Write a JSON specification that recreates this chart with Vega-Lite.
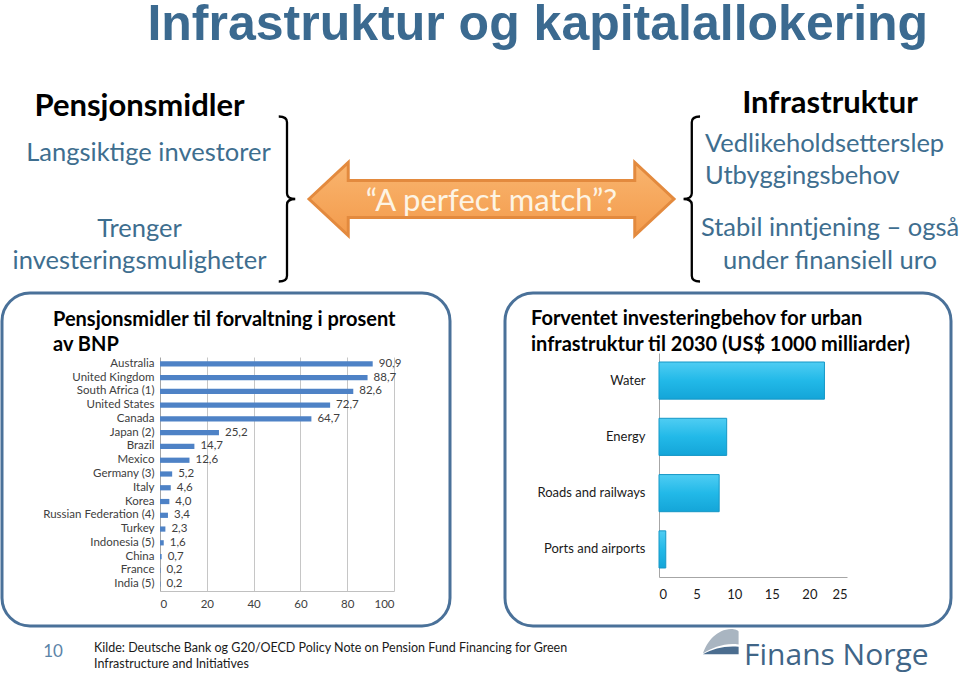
{
  "$schema": "https://vega.github.io/schema/vega-lite/v6.json",
  "padding": 0,
  "background": "#ffffff",
  "title": {"text": "Infrastruktur og kapitalallokering", "font": "Liberation Sans", "fontWeight": "bold", "fontSize": 50, "color": "#3b6a90", "anchor": "middle", "frame": "bounds", "dx": 58, "offset": -2, "baseline": "alphabetic"},
  "config": {
    "view": {"stroke": null},
    "font": "Lato",
    "locale": {"number": {"decimal": ",", "thousands": " ", "grouping": [3], "currency": ["", ""]}}
  },
  "bounds": "full",
  "spacing": 0,
  "vconcat": [
    {
      "bounds": "flush",
      "spacing": 0,
      "hconcat": [
        {
          "width": 275, "height": 184,
          "title": {"text": "Pensjonsmidler", "font": "Lato", "fontWeight": "bold", "fontSize": 31, "color": "#000000", "anchor": "middle", "baseline": "middle", "offset": -31, "frame": "group"},
          "data": {"values": [
            {"gruppe": "investorer", "tekst": "Langsiktige investorer"},
            {"gruppe": "muligheter", "tekst": "Trenger\ninvesteringsmuligheter"}
          ]},
          "encoding": {
            "y": {"field": "gruppe", "type": "nominal", "sort": null, "scale": {"type": "band", "domain": ["investorer", "muligheter"], "paddingInner": 0, "paddingOuter": 0.2105, "align": 0.25}, "axis": null},
            "text": {"field": "tekst", "type": "nominal"}
          },
          "layer": [
            {
              "transform": [{"filter": "datum.gruppe === 'investorer'"}],
              "mark": {"type": "text", "font": "Lato", "fontSize": 25.5, "color": "#3e6e8f", "baseline": "middle", "align": "center", "dx": 9}
            },
            {
              "transform": [{"filter": "datum.gruppe === 'muligheter'"}],
              "mark": {"type": "text", "font": "Lato", "fontSize": 25.5, "color": "#3e6e8f", "lineBreak": "\n", "lineHeight": 32, "baseline": "middle", "align": "center"}
            }
          ]
        },
        {
          "width": 20, "height": 184,
          "data": {"values": [{"figur": "klamme"}]},
          "mark": {"type": "point", "shape": "M-0.1,-1 Q0,-1 0,-0.93 L0,-0.07 Q0,0 0.1,0 Q0,0 0,0.07 L0,0.93 Q0,1 -0.1,1", "size": 27225, "filled": false, "color": "#000000", "strokeWidth": 2.3, "opacity": 1},
          "encoding": {}
        },
        {
          "width": 389, "height": 184,
          "data": {"values": [{"tekst": "\u201cA perfect match\u201d?"}]},
          "layer": [
            {
              "mark": {"type": "point", "shape": "M-1,0 L-0.785,-0.2 L-0.785,-0.101 L0.785,-0.101 L0.785,-0.2 L1,0 L0.785,0.2 L0.785,0.101 L-0.785,0.101 L-0.785,0.2 Z", "size": 133225, "filled": true, "fill": {"gradient": "linear", "x1": 0, "y1": 0, "x2": 0, "y2": 1, "stops": [{"offset": 0, "color": "#f9b56f"}, {"offset": 1, "color": "#f39b4c"}]}, "stroke": "#e38a3e", "strokeWidth": 3, "opacity": 1},
              "encoding": {}
            },
            {
              "mark": {"type": "text", "font": "Lato", "fontSize": 31, "color": "#fdf4e4", "baseline": "middle", "align": "center", "dy": 3},
              "encoding": {"text": {"field": "tekst", "type": "nominal"}}
            }
          ]
        },
        {
          "width": 19, "height": 184,
          "data": {"values": [{"figur": "klamme"}]},
          "mark": {"type": "point", "shape": "M0.055,-1 Q-0.045,-1 -0.045,-0.93 L-0.045,-0.07 Q-0.045,0 -0.145,0 Q-0.045,0 -0.045,0.07 L-0.045,0.93 Q-0.045,1 0.055,1", "size": 27225, "filled": false, "color": "#000000", "strokeWidth": 2.3, "opacity": 1},
          "encoding": {}
        },
        {
          "width": 250, "height": 184,
          "title": {"text": "Infrastruktur", "font": "Lato", "fontWeight": "bold", "fontSize": 31, "color": "#000000", "anchor": "middle", "baseline": "middle", "offset": -28, "frame": "group"},
          "layer": [
            {
              "data": {"values": [{"gruppe": "behov", "kolonne": "venstre", "tekst": "Vedlikeholdsetterslep\nUtbyggingsbehov"}]},
              "mark": {"type": "text", "font": "Lato", "fontSize": 25.5, "color": "#3e6e8f", "lineBreak": "\n", "lineHeight": 32, "baseline": "alphabetic", "align": "left"},
              "encoding": {
                "x": {"field": "kolonne", "type": "nominal", "scale": {"type": "band", "paddingInner": 0, "paddingOuter": 0}, "bandPosition": 0, "axis": null},
                "y": {"field": "gruppe", "type": "nominal", "scale": {"type": "band", "domain": ["behov", "inntjening"], "paddingInner": 0, "paddingOuter": 0.0952, "align": 0.1875}, "axis": null},
                "text": {"field": "tekst", "type": "nominal"}
              }
            },
            {
              "data": {"values": [{"gruppe": "inntjening", "tekst": "Stabil inntjening \u2013 ogs\u00e5\nunder finansiell uro"}]},
              "mark": {"type": "text", "font": "Lato", "fontSize": 25.5, "color": "#3e6e8f", "lineBreak": "\n", "lineHeight": 33, "baseline": "alphabetic", "align": "center"},
              "encoding": {
                "y": {"field": "gruppe", "type": "nominal"},
                "text": {"field": "tekst", "type": "nominal"}
              }
            }
          ]
        }
      ]
    },
    {
      "bounds": "flush",
      "spacing": 55,
      "hconcat": [
        {
          "width": 448, "height": 333,
          "view": {"stroke": "#4a7199", "strokeWidth": 3, "cornerRadius": 28, "fill": "#ffffff"},
          "title": {"text": ["Pensjonsmidler til forvaltning i prosent", "av BNP"], "anchor": "start", "frame": "group", "dx": 51, "offset": -62, "baseline": "top", "font": "Lato", "fontWeight": "bold", "fontSize": 20, "lineHeight": 25, "color": "#000000"},
          "data": {"values": [
            {"land": "Australia", "andel": 90.9},
            {"land": "United Kingdom", "andel": 88.7},
            {"land": "South Africa (1)", "andel": 82.6},
            {"land": "United States", "andel": 72.7},
            {"land": "Canada", "andel": 64.7},
            {"land": "Japan (2)", "andel": 25.2},
            {"land": "Brazil", "andel": 14.7},
            {"land": "Mexico", "andel": 12.6},
            {"land": "Germany (3)", "andel": 5.2},
            {"land": "Italy", "andel": 4.6},
            {"land": "Korea", "andel": 4.0},
            {"land": "Russian Federation (4)", "andel": 3.4},
            {"land": "Turkey", "andel": 2.3},
            {"land": "Indonesia (5)", "andel": 1.6},
            {"land": "China", "andel": 0.7},
            {"land": "France", "andel": 0.2},
            {"land": "India (5)", "andel": 0.2}
          ]},
          "layer": [
            {
              "mark": {"type": "bar", "color": "#4e82c6"},
              "encoding": {
                "y": {"field": "land", "type": "nominal", "sort": null, "scale": {"type": "band", "range": [64, 298], "paddingInner": 0.62, "paddingOuter": 0.31}, "axis": {"orient": "left", "offset": -158, "title": null, "ticks": false, "domainColor": "#a6a6a6", "labelPadding": 6, "labelFont": "Lato", "labelFontSize": 11.5, "labelColor": "#404040"}},
                "x": {"field": "andel", "type": "quantitative", "scale": {"domain": [0, 100], "range": [158, 392], "nice": false}, "axis": {"orient": "top", "title": null, "labels": false, "ticks": false, "domain": false, "grid": true, "gridColor": "#c6c6c6", "values": [20, 40, 60, 80, 100]}}
              }
            },
            {
              "mark": {"type": "text", "align": "left", "baseline": "middle", "dx": 6, "font": "Lato", "fontSize": 11.5, "color": "#404040"},
              "encoding": {
                "y": {"field": "land", "type": "nominal", "sort": null},
                "x": {"field": "andel", "type": "quantitative", "axis": {"orient": "bottom", "offset": -35, "title": null, "ticks": false, "grid": false, "domainColor": "#c0c0c0", "labelPadding": 7, "values": [0, 20, 40, 60, 80, 100], "labelFont": "Lato", "labelFontSize": 11.5, "labelColor": "#404040"}},
                "text": {"field": "andel", "type": "quantitative", "format": ".1f"}
              }
            }
          ],
          "resolve": {"axis": {"x": "independent"}}
        },
        {
          "width": 446, "height": 333,
          "view": {"stroke": "#4a7199", "strokeWidth": 3, "cornerRadius": 28, "fill": "#ffffff"},
          "title": {"text": ["Forventet investeringbehov for urban", "infrastruktur til 2030 (US$ 1000 milliarder)"], "anchor": "start", "frame": "group", "dx": 26, "offset": -62, "baseline": "top", "font": "Lato", "fontWeight": "bold", "fontSize": 20, "lineHeight": 26, "color": "#000000"},
          "data": {"values": [
            {"kategori": "Water", "verdi": 22},
            {"kategori": "Energy", "verdi": 9},
            {"kategori": "Roads and railways", "verdi": 8},
            {"kategori": "Ports and airports", "verdi": 0.9}
          ]},
          "mark": {"type": "bar", "color": {"gradient": "linear", "x1": 0, "y1": 0, "x2": 0, "y2": 1, "stops": [{"offset": 0, "color": "#4fcdf3"}, {"offset": 0.5, "color": "#22b9e8"}, {"offset": 1, "color": "#14a5d8"}]}, "stroke": "#1597c6", "strokeWidth": 1},
          "encoding": {
            "y": {"field": "kategori", "type": "nominal", "sort": null, "scale": {"range": [60, 284], "paddingInner": 0.34, "paddingOuter": 0.16}, "axis": {"orient": "left", "offset": -154, "title": null, "ticks": false, "domainColor": "#a6a6a6", "labelPadding": 14, "labelFont": "Lato", "labelFontSize": 13, "labelColor": "#1a1a1a"}},
            "x": {"field": "verdi", "type": "quantitative", "scale": {"domain": [0, 25], "range": [154, 342], "nice": false}, "axis": {"orient": "bottom", "offset": -49, "title": null, "ticks": false, "grid": false, "domainColor": "#a6a6a6", "labelPadding": 11, "values": [0, 5, 10, 15, 20, 25], "labelFont": "Lato", "labelFontSize": 13, "labelColor": "#1a1a1a"}}
          }
        }
      ]
    },
    {
      "bounds": "flush",
      "spacing": 0,
      "hconcat": [
        {
          "width": 92, "height": 47,
          "data": {"values": [{"side": "10"}]},
          "mark": {"type": "text", "font": "Lato", "fontSize": 17, "color": "#5b84a8", "dx": 5, "baseline": "middle"},
          "encoding": {"text": {"field": "side", "type": "nominal"}}
        },
        {
          "width": 608, "height": 47,
          "data": {"values": [{"kolonne": "kilde", "tekst": "Kilde: Deutsche Bank og G20/OECD Policy Note on Pension Fund Financing for Green\nInfrastructure and Initiatives"}]},
          "mark": {"type": "text", "font": "Lato", "fontSize": 12.5, "color": "#1a1a1a", "align": "left", "baseline": "middle", "lineBreak": "\n", "lineHeight": 16, "dy": -4},
          "encoding": {
            "x": {"field": "kolonne", "type": "nominal", "scale": {"type": "band", "paddingInner": 0, "paddingOuter": 0}, "bandPosition": 0, "axis": null},
            "text": {"field": "tekst", "type": "nominal"}
          }
        },
        {
          "width": 42, "height": 47,
          "data": {"values": [{"del": "topp"}, {"del": "bunn"}]},
          "mark": {"type": "point", "filled": true, "size": 1600, "opacity": 1},
          "encoding": {
            "shape": {"field": "del", "type": "nominal", "scale": {"domain": ["topp", "bunn"], "range": ["M-1,0.1 C-0.8,-0.5 -0.3,-1.1 0.4,-1.12 C0.6,-1.12 0.75,-1.05 0.78,-1.0 L0.78,-0.35 C0.1,-0.45 -0.5,-0.2 -1,0.1 Z", "M-1,0.14 C-0.5,-0.15 0.1,-0.3 0.78,-0.24 L0.78,0.14 Z"]}, "legend": null},
            "color": {"field": "del", "type": "nominal", "scale": {"domain": ["topp", "bunn"], "range": ["#a9b5c1", "#4b6d8f"]}, "legend": null}
          }
        },
        {
          "width": 211, "height": 47,
          "data": {"values": [{"kolonne": "logo", "tekst": "Finans Norge"}]},
          "mark": {"type": "text", "font": "Open Sans", "fontSize": 30, "letterSpacing": 3.2, "color": "#3f6587", "align": "left", "baseline": "middle", "dy": 4},
          "encoding": {
            "x": {"field": "kolonne", "type": "nominal", "scale": {"type": "band", "paddingInner": 0, "paddingOuter": 0}, "bandPosition": 0, "axis": null},
            "text": {"field": "tekst", "type": "nominal"}
          }
        }
      ]
    }
  ]
}
